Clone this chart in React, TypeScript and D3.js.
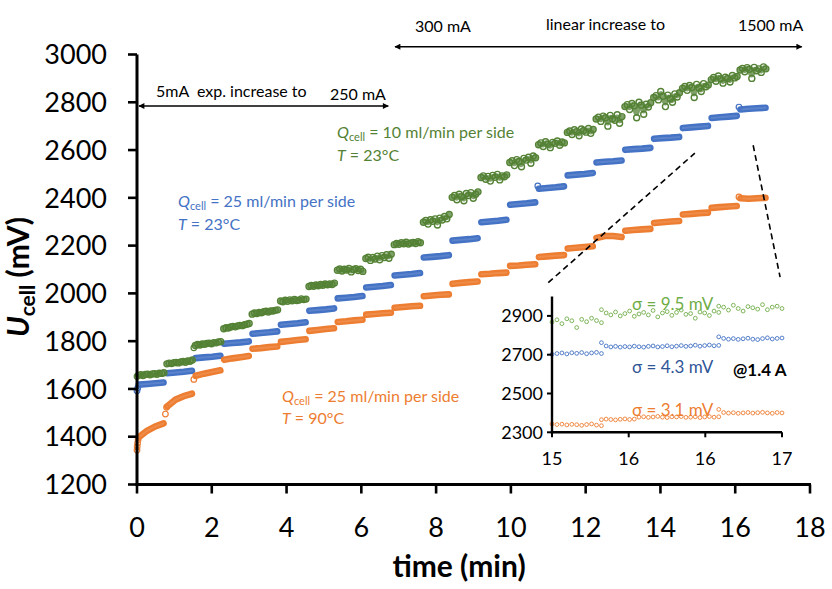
import React from 'react';
import * as d3 from 'd3';

// ---------- data ----------
const X_TICKS = [0, 2, 4, 6, 8, 10, 12, 14, 16, 18];
const Y_TICKS = [1200, 1400, 1600, 1800, 2000, 2200, 2400, 2600, 2800, 3000];

// step boundaries (min)
const STEP_T = [0, 0.76, 1.52, 2.28, 3.04, 3.8, 4.56, 5.32, 6.08, 6.84, 7.62, 8.39, 9.16, 9.93, 10.7, 11.47, 12.24, 13.01, 13.78, 14.55, 15.32, 16.09, 16.86];

// Q = 25 ml/min, T = 23 °C (blue) – values along each step (mV)
const BLUE_STEPS = [
  [1618, 1621, 1624, 1627], [1666, 1669, 1672, 1676], [1729, 1732, 1735, 1739], [1789, 1792, 1795, 1799],
  [1831, 1834, 1837, 1841], [1869, 1872, 1875, 1879], [1927, 1930, 1933, 1937], [1979, 1982, 1985, 1989],
  [2025, 2028, 2031, 2035], [2075, 2078, 2081, 2085], [2150, 2153, 2156, 2160], [2221, 2224, 2227, 2231],
  [2298, 2301, 2304, 2308], [2371, 2374, 2377, 2381], [2438, 2441, 2444, 2448], [2494, 2497, 2500, 2504],
  [2548, 2551, 2553, 2556], [2601, 2604, 2606, 2609], [2647, 2650, 2652, 2655], [2692, 2695, 2698, 2701],
  [2734, 2737, 2740, 2743], [2770, 2773, 2775, 2777],
];
const BLUE_EXTRA: [number, number][] = [[0.0, 1592], [0.02, 1604], [10.72, 2450], [16.1, 2780]];

// Q = 25 ml/min, T = 90 °C (orange)
const ORANGE_STEPS = [
  [1398, 1425, 1443, 1456], [1527, 1555, 1570, 1580], [1655, 1664, 1671, 1678], [1722, 1728, 1733, 1738],
  [1768, 1771, 1775, 1778], [1797, 1801, 1805, 1808], [1843, 1847, 1851, 1854], [1880, 1883, 1887, 1890],
  [1911, 1914, 1917, 1919], [1940, 1943, 1946, 1948], [1988, 1991, 1994, 1996], [2040, 2044, 2047, 2050],
  [2080, 2082, 2085, 2087], [2115, 2117, 2120, 2122], [2152, 2155, 2158, 2160], [2188, 2191, 2194, 2197],
  [2232, 2240, 2240, 2236], [2262, 2265, 2268, 2270], [2295, 2298, 2301, 2303], [2330, 2333, 2336, 2338],
  [2358, 2361, 2364, 2366], [2398, 2396, 2398, 2400],
];
const ORANGE_EXTRA: [number, number][] = [[0.0, 1344], [0.005, 1358], [0.015, 1373], [0.03, 1388], [0.76, 1495], [0.79, 1523], [1.52, 1640], [16.1, 2404]];

// Q = 10 ml/min, T = 23 °C (green) – noisy samples along each step
const GREEN_STEPS = [
  [1657, 1660, 1656, 1661, 1662, 1659, 1663, 1664, 1661, 1666, 1665, 1668],
  [1705, 1708, 1706, 1710, 1711, 1709, 1713, 1715, 1712, 1717, 1716, 1721],
  [1782, 1786, 1784, 1788, 1787, 1790, 1792, 1789, 1794, 1793, 1797, 1798],
  [1852, 1856, 1855, 1859, 1862, 1860, 1864, 1866, 1865, 1869, 1871, 1874],
  [1913, 1918, 1916, 1920, 1919, 1923, 1925, 1922, 1927, 1926, 1929, 1931],
  [1968, 1965, 1971, 1967, 1973, 1969, 1975, 1970, 1972, 1977, 1974, 1976],
  [2029, 2033, 2030, 2035, 2032, 2037, 2034, 2039, 2036, 2040, 2037, 2043],
  [2097, 2102, 2094, 2101, 2098, 2104, 2090, 2100, 2103, 2096, 2101, 2092],
  [2146, 2151, 2138, 2150, 2144, 2156, 2141, 2158, 2150, 2162, 2147, 2164],
  [2204, 2209, 2206, 2212, 2208, 2214, 2207, 2211, 2213, 2209, 2216, 2212],
  [2298, 2305, 2290, 2308, 2302, 2312, 2286, 2315, 2307, 2322, 2312, 2330],
  [2402, 2410, 2392, 2415, 2405, 2388, 2418, 2410, 2422, 2398, 2415, 2425],
  [2485, 2492, 2478, 2490, 2470, 2494, 2486, 2498, 2475, 2492, 2488, 2496],
  [2548, 2555, 2535, 2560, 2552, 2530, 2565, 2558, 2570, 2545, 2575, 2568],
  [2622, 2630, 2615, 2635, 2625, 2610, 2632, 2628, 2638, 2620, 2634, 2630],
  [2674, 2680, 2665, 2685, 2677, 2660, 2688, 2682, 2675, 2690, 2670, 2686],
  [2730, 2738, 2720, 2742, 2735, 2700, 2745, 2730, 2725, 2748, 2712, 2740],
  [2782, 2790, 2770, 2795, 2785, 2735, 2800, 2788, 2750, 2792, 2780, 2798],
  [2820, 2828, 2810, 2845, 2825, 2782, 2830, 2815, 2800, 2835, 2822, 2840],
  [2858, 2866, 2850, 2870, 2862, 2820, 2875, 2860, 2845, 2878, 2865, 2872],
  [2895, 2904, 2888, 2910, 2898, 2880, 2905, 2900, 2885, 2912, 2902, 2908],
  [2935, 2942, 2928, 2945, 2938, 2900, 2946, 2932, 2940, 2925, 2948, 2940],
];
const GREEN_EXTRA: [number, number][] = [[1.52, 1772], [0.0, 1652]];

// inset (15–17 min, @1.4 A)
const INSET_X_TICKS = [15, 15.667, 16.333, 17];
const INSET_X_LABELS = ['15', '16', '16', '17'];
const INSET_Y_TICKS = [2300, 2500, 2700, 2900];
const INSET_STEP_T = [15.0, 15.43, 16.45, 17.0];
const INSET_GREEN = [
  [2868, 2880, 2860, 2885, 2875, 2840, 2882, 2870, 2888, 2876, 2865],
  [2932, 2915, 2905, 2920, 2900, 2912, 2925, 2898, 2910, 2918, 2905, 2928, 2895, 2915, 2922, 2903, 2918, 2930, 2908, 2912, 2888, 2920, 2915, 2902, 2925, 2918],
  [2950, 2945, 2930, 2955, 2938, 2925, 2948, 2942, 2935, 2958, 2932, 2945, 2950, 2938],
];
const INSET_BLUE = [
  [2702, 2706, 2709, 2704, 2710, 2707, 2711, 2705, 2709, 2712, 2706],
  [2762, 2745, 2740, 2743, 2739, 2742, 2740, 2744, 2741, 2739, 2743, 2745, 2740, 2742, 2746, 2741, 2744, 2747, 2743, 2745, 2749, 2744, 2747, 2750, 2746, 2748],
  [2792, 2784, 2780, 2783, 2779, 2782, 2785, 2780, 2778, 2783, 2787, 2781, 2784, 2786],
];
const INSET_ORANGE = [
  [2343, 2340, 2342, 2338, 2341, 2339, 2336, 2340, 2343, 2337, 2334],
  [2365, 2368, 2366, 2364, 2367, 2369, 2366, 2368, 2378, 2380, 2377, 2379, 2382, 2378, 2376, 2380, 2379, 2381, 2377, 2378, 2380, 2376, 2379, 2381, 2378, 2380],
  [2418, 2402, 2399, 2401, 2398, 2400, 2402, 2399, 2401, 2403, 2400, 2398, 2402, 2400],
];

// zoom guide lines (main-chart coordinates: min, mV)
const GUIDE_LINES: [number, number][][] = [
  [[11.0, 2045], [14.92, 2587]],
  [[16.48, 2620], [17.2, 2068]],
];

// ---------- styles ----------
const FONT = "Lato, 'Open Sans', sans-serif";
const C_GREEN = '#548235';
const C_GREEN_L = '#70AD47';
const C_BLUE = '#4472C4';
const C_ORANGE = '#ED7D31';

function samplePoints(steps: number[][], bounds: number[], pad: number) {
  const pts: [number, number][][] = [];
  steps.forEach((vals, k) => {
    const t0 = bounds[k] + pad;
    const t1 = bounds[k + 1] - pad;
    const n = vals.length;
    pts.push(vals.map((v, i) => [t0 + ((t1 - t0) * i) / (n - 1), v] as [number, number]));
  });
  return pts;
}

export default function App() {
  const x = d3.scaleLinear().domain([0, 18]).range([137, 810]);
  const y = d3.scaleLinear().domain([1200, 3000]).range([484.5, 54.5]);
  const xi = d3.scaleLinear().domain([15, 17]).range([552, 782]);
  const yi = d3.scaleLinear().domain([2300, 3000]).range([432.3, 296.5]);

  const line = d3.line<[number, number]>().x((d) => x(d[0])).y((d) => y(d[1]));
  const smooth = d3.line<[number, number]>().x((d) => x(d[0])).y((d) => y(d[1])).curve(d3.curveBasis);

  const bluePts = samplePoints(BLUE_STEPS, STEP_T, 0.05);
  const orangePts = samplePoints(ORANGE_STEPS, STEP_T, 0.05);
  const greenPts = samplePoints(GREEN_STEPS, STEP_T, 0.04);

  const iBlue = samplePoints(INSET_BLUE, INSET_STEP_T, 0.0);
  const iOrange = samplePoints(INSET_ORANGE, INSET_STEP_T, 0.0);
  const iGreen = samplePoints(INSET_GREEN, INSET_STEP_T, 0.0);

  const band = (pts: [number, number][][], color: string, key: string) => (
    <g key={key}>
      {pts.map((p, i) => (
        <path key={i} d={line(p) || ''} fill="none" stroke={color} strokeWidth={6.6} strokeLinecap="round" />
      ))}
      {pts.map((p, i) => (
        <path key={'c' + i} d={line(p) || ''} fill="none" stroke="#ffffff" strokeOpacity={0.12} strokeWidth={2} strokeLinecap="round" />
      ))}
    </g>
  );

  const extras = (pts: [number, number][], color: string) =>
    pts.map((d, i) => <circle key={i} cx={x(d[0])} cy={y(d[1])} r={2.8} fill="none" stroke={color} strokeWidth={1.2} />);

  const insetDots = (pts: [number, number][][], color: string) =>
    pts.flat().map((d, i) => <circle key={i} cx={xi(d[0])} cy={yi(d[1])} r={1.9} fill="none" stroke={color} strokeWidth={0.9} />);

  const axisW = 3;

  return (
    <svg width={832} height={589} style={{ position: 'absolute', left: 0, top: 0, background: '#fff' }} fontFamily={FONT}>
      <defs>
        <marker id="ah" viewBox="0 0 10 10" refX="9" refY="5" markerWidth="7" markerHeight="6" markerUnits="userSpaceOnUse" orient="auto-start-reverse">
          <path d="M0,0 L10,5 L0,10 z" fill="#000" />
        </marker>
      </defs>

      {/* annotation arrows */}
      <line x1={x(0) + 2} x2={x(6.72)} y1={106} y2={106} stroke="#000" strokeWidth={1.6} markerStart="url(#ah)" markerEnd="url(#ah)" />
      <line x1={x(6.9)} x2={x(17.78)} y1={46.7} y2={46.7} stroke="#000" strokeWidth={1.6} markerStart="url(#ah)" markerEnd="url(#ah)" />
      <text x={156} y={97} fontSize={16} fill="#000" style={{ whiteSpace: 'pre' }}>5mA  exp. increase to</text>
      <text x={330} y={99.5} fontSize={16} fill="#000">250 mA</text>
      <text x={415} y={31.5} fontSize={16} fill="#000">300 mA</text>
      <text x={546} y={29.5} fontSize={16} fill="#000">linear increase to</text>
      <text x={738} y={30.5} fontSize={16} fill="#000">1500 mA</text>

      {/* series labels */}
      <text x={337} y={138} fontSize={16} fill={C_GREEN}>
        <tspan fontStyle="italic">Q</tspan>
        <tspan fontSize={11} dy={3}>cell</tspan>
        <tspan dy={-3}> = 10 ml/min per side</tspan>
      </text>
      <text x={337} y={161} fontSize={16} fill={C_GREEN}>
        <tspan fontStyle="italic">T</tspan>
        <tspan> = 23°C</tspan>
      </text>
      <text x={178} y={207} fontSize={16} fill={C_BLUE}>
        <tspan fontStyle="italic">Q</tspan>
        <tspan fontSize={11} dy={3}>cell</tspan>
        <tspan dy={-3}> = 25 ml/min per side</tspan>
      </text>
      <text x={178} y={230} fontSize={16} fill={C_BLUE}>
        <tspan fontStyle="italic">T</tspan>
        <tspan> = 23°C</tspan>
      </text>
      <text x={282} y={402} fontSize={16} fill={C_ORANGE}>
        <tspan fontStyle="italic">Q</tspan>
        <tspan fontSize={11} dy={3}>cell</tspan>
        <tspan dy={-3}> = 25 ml/min per side</tspan>
      </text>
      <text x={282} y={423.5} fontSize={16} fill={C_ORANGE}>
        <tspan fontStyle="italic">T</tspan>
        <tspan> = 90°C</tspan>
      </text>

      {/* data */}
      {band(bluePts, C_BLUE, 'blue')}
      {band(orangePts, C_ORANGE, 'orange')}
      <g>
        {greenPts.map((p, i) => (
          <path key={i} d={smooth(p) || ''} fill="none" stroke={C_GREEN} strokeWidth={5} strokeOpacity={0.75} strokeLinecap="round" />
        ))}
        {greenPts.flat().map((d, i) => (
          <circle key={i} cx={x(d[0])} cy={y(d[1])} r={3} fill="none" stroke={C_GREEN} strokeWidth={1.4} />
        ))}
      </g>
      <g>{extras(BLUE_EXTRA, C_BLUE)}</g>
      <g>{extras(ORANGE_EXTRA, C_ORANGE)}</g>
      <g>{extras(GREEN_EXTRA, C_GREEN)}</g>

      {/* guide lines */}
      {GUIDE_LINES.map((l, i) => (
        <line key={i} x1={x(l[0][0])} y1={y(l[0][1])} x2={x(l[1][0])} y2={y(l[1][1])} stroke="#000" strokeWidth={1.6} strokeDasharray="6 4" />
      ))}

      {/* main axes */}
      <line x1={x(0)} x2={x(0)} y1={y(3000)} y2={y(1200) + axisW / 2} stroke="#000" strokeWidth={axisW} />
      <line x1={x(0) - axisW / 2} x2={x(18) + 1} y1={y(1200)} y2={y(1200)} stroke="#000" strokeWidth={axisW} />
      {Y_TICKS.map((t) => (
        <g key={t}>
          <line x1={x(0) - 9} x2={x(0)} y1={y(t)} y2={y(t)} stroke="#000" strokeWidth={2.6} />
          <text x={107} y={y(t)} dy="0.36em" textAnchor="end" fontSize={27} fill="#000">{t}</text>
        </g>
      ))}
      {X_TICKS.map((t) => (
        <g key={t}>
          <line x1={x(t)} x2={x(t)} y1={y(1200)} y2={y(1200) + 9} stroke="#000" strokeWidth={2.6} />
          <text x={x(t)} y={527} dy="0.36em" textAnchor="middle" fontSize={27} fill="#000">{t}</text>
        </g>
      ))}

      {/* axis titles */}
      <text x={459} y={577} textAnchor="middle" fontSize={30} fontWeight="bold" fill="#000">time (min)</text>
      <text transform="translate(29,277) rotate(-90)" textAnchor="middle" fontSize={30} fontWeight="bold" fill="#000">
        <tspan fontStyle="italic">U</tspan>
        <tspan fontSize={21} dy={6}>cell</tspan>
        <tspan dy={-6}> (mV)</tspan>
      </text>

      {/* inset */}
      <g>
        {insetDots(iGreen, C_GREEN_L)}
        {insetDots(iBlue, C_BLUE)}
        {insetDots(iOrange, C_ORANGE)}
        <line x1={xi(15)} x2={xi(15)} y1={yi(3000)} y2={yi(2300) + 1.2} stroke="#000" strokeWidth={2.4} />
        <line x1={xi(15) - 1.2} x2={xi(17)} y1={yi(2300)} y2={yi(2300)} stroke="#000" strokeWidth={2.4} />
        {INSET_Y_TICKS.map((t) => (
          <g key={t}>
            <line x1={xi(15) - 5} x2={xi(15)} y1={yi(t)} y2={yi(t)} stroke="#000" strokeWidth={2} />
            <text x={543} y={yi(t)} dy="0.36em" textAnchor="end" fontSize={18} fill="#000">{t}</text>
          </g>
        ))}
        {INSET_X_TICKS.map((t, i) => (
          <g key={t}>
            <line x1={xi(t)} x2={xi(t)} y1={yi(2300)} y2={yi(2300) + 5} stroke="#000" strokeWidth={2} />
            <text x={xi(t)} y={459} dy="0.36em" textAnchor="middle" fontSize={18} fill="#000">{INSET_X_LABELS[i]}</text>
          </g>
        ))}
        <text x={632} y={304} dy="0.36em" fontSize={17} fill={C_GREEN_L}>σ = 9.5 mV</text>
        <text x={632} y={367} dy="0.36em" fontSize={17} fill="#2F5597">σ = 4.3 mV</text>
        <text x={632} y={410} dy="0.36em" fontSize={17} fill={C_ORANGE}>σ = 3.1 mV</text>
        <text x={733} y={370} dy="0.36em" fontSize={17} fontWeight="bold" fill="#000">@1.4 A</text>
      </g>
    </svg>
  );
}
